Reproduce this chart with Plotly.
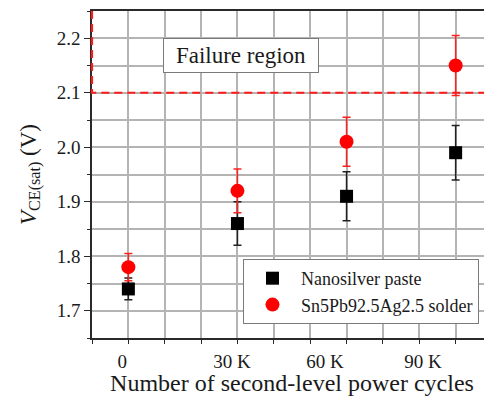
import plotly.graph_objects as go

# ---- data ----
cycles_k = [0, 30, 60, 90]
nano_v = [1.74, 1.86, 1.91, 1.99]
nano_err = [0.02, 0.04, 0.045, 0.05]
solder_v = [1.78, 1.92, 2.01, 2.15]
solder_err = [0.025, 0.04, 0.045, 0.055]
tick_labels = ["0", "30 K", "60 K", "90 K"]
failure_threshold = 2.1
series_names = ["Nanosilver paste", "Sn5Pb92.5Ag2.5 solder"]

FONT = "Liberation Serif"
GRID = "#b4b4b4"
AXIS = "#2a2a2a"
TXT = "#1a1a1a"

fig = go.Figure()
fig.add_trace(go.Scatter(
    x=cycles_k, y=nano_v, mode="markers", name=series_names[0],
    marker=dict(symbol="square", size=13, color="black"),
    error_y=dict(type="data", array=nano_err, color="#222222", thickness=1.5, width=4),
))
fig.add_trace(go.Scatter(
    x=cycles_k, y=solder_v, mode="markers", name=series_names[1],
    marker=dict(symbol="circle", size=14, color="#ff0000"),
    error_y=dict(type="data", array=solder_err, color="#ff2020", thickness=1.5, width=4),
))

# failure region: dashed outline (left, bottom, right)
fig.add_shape(
    type="path", xref="paper", yref="y",
    path=f"M 0 2.25 L 0 {failure_threshold} L 0.99 {failure_threshold} L 0.99 2.25",
    line=dict(color="#ff1a1a", width=2.2, dash="8px,5px"), layer="above",
)

fig.add_annotation(
    x=0.3725, y=2.168, xref="paper", yref="y", text="Failure region",
    showarrow=False, font=dict(family=FONT, size=23, color=TXT),
    bgcolor="white", bordercolor="#7a7a7a", borderwidth=1,
    width=150, height=29, borderpad=2,
)

label_pos = [-1.7, 28.5, 54.1, 81.0]

fig.update_layout(
    width=484, height=388,
    margin=dict(l=84, r=0, t=3, b=58, autoexpand=False),
    paper_bgcolor="white", plot_bgcolor="white",
    font=dict(family=FONT, size=19, color=TXT),
    showlegend=True,
    legend=dict(
        x=0.3775, y=0.2416, xanchor="left", yanchor="top",
        bgcolor="white", bordercolor="#7a7a7a", borderwidth=1,
        font=dict(family=FONT, size=18, color=TXT),
        itemwidth=47, tracegroupgap=0,
    ),
    xaxis=dict(
        range=[-10, 100], showgrid=False, zeroline=False, automargin=False,
        tickmode="array", tickvals=label_pos, ticktext=tick_labels,
        ticks="", ticklabelstandoff=5,
        tickfont=dict(family=FONT, size=19, color=TXT),
        showline=True, linecolor=AXIS, linewidth=1.5, mirror=True,
        minor=dict(tickmode="linear", tick0=0, dtick=10, ticks="outside", ticklen=4,
                   tickcolor=AXIS, tickwidth=1.2,
                   showgrid=True, gridcolor=GRID, gridwidth=1.8),
        title=dict(text="Number of second-level power cycles",
                   font=dict(family=FONT, size=24, color=TXT), standoff=2),
    ),
    yaxis=dict(
        range=[1.65, 2.25], tick0=1.7, dtick=0.1, tickformat=".1f",
        showgrid=True, gridcolor=GRID, gridwidth=1.8, zeroline=False, automargin=False,
        ticks="outside", ticklen=6, tickcolor=AXIS, tickwidth=1.2,
        tickfont=dict(family=FONT, size=19, color=TXT),
        showline=True, linecolor=AXIS, linewidth=1.5,
        minor=dict(tickmode="linear", tick0=1.65, dtick=0.05, ticks="outside", ticklen=3,
                   tickcolor=AXIS, tickwidth=1.2,
                   showgrid=True, gridcolor=GRID, gridwidth=1.8),
        title=dict(text="<i>V</i><sub>CE(sat)</sub> (V)",
                   font=dict(family=FONT, size=23, color=TXT), standoff=14),
    ),
)

fig.write_html("out.html")
